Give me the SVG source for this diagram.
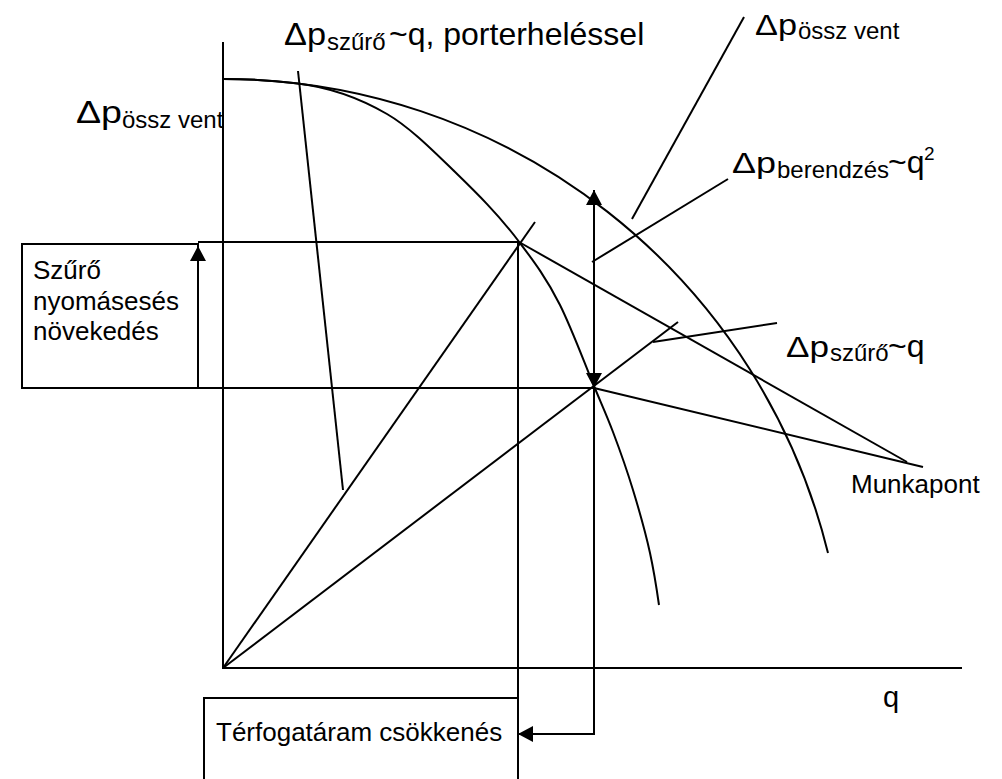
<svg xmlns="http://www.w3.org/2000/svg" width="1002" height="779" viewBox="0 0 1002 779">
<style>
.ln{stroke:#000;stroke-width:2;fill:none}
text{font-family:"Liberation Sans",Arial,sans-serif;fill:#000}
.t{font-size:26px}
.big{font-size:32px}
.mid{font-size:29px}
.sub{font-size:24px}
.sup{font-size:19px}
</style>
<defs>
<marker id="ah" viewBox="0 0 15 16" refX="15" refY="8" markerWidth="15" markerHeight="16" markerUnits="userSpaceOnUse" orient="auto-start-reverse">
<path d="M0,0 L15,8 L0,16 z" fill="#000"/>
</marker>
</defs>
<rect x="0" y="0" width="1002" height="779" fill="#fff"/>

<g id="axes">
<line class="ln" x1="223" y1="42" x2="223" y2="669"/>
<line class="ln" x1="222" y1="668" x2="962" y2="668"/>
</g>

<g id="curve-ossz-vent">
<path class="ln" d="M223,79 A623,623 0 0 1 828,553"/>
</g>
<g id="curve-porterheles">
<path class="ln" d="M223,79 A623,623 0 0 1 298,83.5 C327.7,87.1 357.3,96.8 387,114 C409,126.8 431,148.7 453,170 C475.3,191.7 497.7,213.3 520,243 C533.3,260.7 546.7,278.3 560,305 C571.3,327.7 582.7,358.5 594,386 C600.3,401.4 606.7,415.2 613,432 C619.7,449.7 626.3,468 633,490 C638.7,508.7 644.3,526.9 650,553 C653,566.8 656,584 659,605"/>
</g>
<g id="line-szuro-porter">
<line class="ln" x1="223" y1="668" x2="535" y2="222"/>
</g>
<g id="line-szuro">
<line class="ln" x1="223" y1="668" x2="678" y2="322"/>
</g>
<g id="line-munkapont">
<line class="ln" x1="519" y1="242" x2="907" y2="462"/>
<line class="ln" x1="594" y1="388" x2="923" y2="467"/>
</g>

<g id="box-szuro-novekedes">
<rect class="ln" x="22" y="244" width="176" height="144"/>
<text class="t" x="33" y="279">Szűrő</text>
<text class="t" x="33" y="310">nyomásesés</text>
<text class="t" x="33" y="340">növekedés</text>
</g>

<g id="box-terfogataram">
<rect class="ln" x="204" y="698" width="314" height="110"/>
<text class="t" x="216" y="741">Térfogatáram csökkenés</text>
</g>

<g id="label-szuro-porter">
<text class="big" x="284" y="45" textLength="42" lengthAdjust="spacingAndGlyphs">Δp</text>
<text class="sub" x="327" y="50">szűrő</text>
<text class="big" x="389" y="45">~q, porterheléssel</text>
</g>
<g id="label-ossz-vent-left">
<text class="big" x="76" y="123" textLength="46" lengthAdjust="spacingAndGlyphs">Δp</text>
<text class="sub" x="122" y="128">össz vent</text>
</g>
<g id="label-ossz-vent-right">
<text class="mid" x="755" y="35" textLength="42" lengthAdjust="spacingAndGlyphs">Δp</text>
<text class="sub" x="798" y="39">össz vent</text>
</g>
<g id="label-berendezes">
<text class="mid" x="732" y="173" textLength="44" lengthAdjust="spacingAndGlyphs">Δp</text>
<text class="sub" x="777" y="178">berendzés</text>
<text class="big" x="888" y="173">~q</text>
<text class="sup" x="924" y="160">2</text>
</g>
<g id="label-szuro">
<text class="mid" x="786" y="357" textLength="43" lengthAdjust="spacingAndGlyphs">Δp</text>
<text class="sub" x="830" y="361">szűrő</text>
<text class="big" x="888" y="357">~q</text>
</g>
<g id="label-munkapont">
<text class="t" x="851" y="493">Munkapont</text>
</g>
<g id="label-q">
<text class="mid" x="883" y="707">q</text>
</g>

<g id="connectors">
<line class="ln" x1="298" y1="71" x2="343" y2="490"/>
<line class="ln" x1="632" y1="219" x2="744" y2="17"/>
<line class="ln" x1="592" y1="262" x2="728" y2="179"/>
<line class="ln" x1="653" y1="342" x2="777" y2="323"/>
<line class="ln" x1="198" y1="242" x2="519" y2="242"/>
<line class="ln" x1="198" y1="388" x2="594" y2="388"/>
<line class="ln" x1="518" y1="242" x2="518" y2="779"/>
<line class="ln" x1="198" y1="388" x2="198" y2="246" marker-end="url(#ah)"/>
<line class="ln" x1="594" y1="388" x2="594" y2="190" marker-start="url(#ah)" marker-end="url(#ah)"/>
<polyline class="ln" points="594,388 594,734 518,734" marker-end="url(#ah)"/>
</g>
</svg>
